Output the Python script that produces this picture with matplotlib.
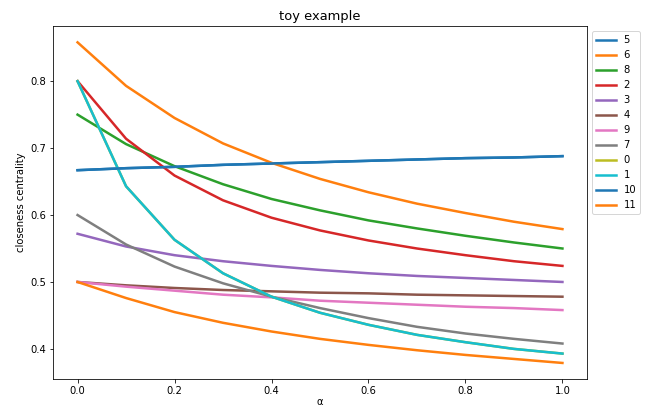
import matplotlib
matplotlib.use("Agg")
import matplotlib.pyplot as plt

alpha = [0.0, 0.1, 0.2, 0.3, 0.4, 0.5, 0.6, 0.7, 0.8, 0.9, 1.0]

# closeness centrality per node, in legend order
node_5 = [0.667, 0.670, 0.672, 0.675, 0.677, 0.679, 0.681, 0.683, 0.685, 0.686, 0.688]
node_6 = [0.858, 0.793, 0.745, 0.707, 0.678, 0.654, 0.634, 0.617, 0.603, 0.590, 0.579]
node_8 = [0.750, 0.706, 0.673, 0.646, 0.624, 0.607, 0.592, 0.580, 0.569, 0.559, 0.550]
node_2 = [0.800, 0.714, 0.659, 0.622, 0.596, 0.577, 0.562, 0.550, 0.540, 0.531, 0.524]
node_3 = [0.572, 0.553, 0.540, 0.531, 0.524, 0.518, 0.513, 0.509, 0.506, 0.503, 0.500]
node_4 = [0.500, 0.495, 0.491, 0.488, 0.486, 0.484, 0.483, 0.481, 0.480, 0.479, 0.478]
node_9 = [0.500, 0.493, 0.487, 0.481, 0.477, 0.472, 0.469, 0.466, 0.463, 0.461, 0.458]
node_7 = [0.600, 0.556, 0.523, 0.498, 0.478, 0.461, 0.446, 0.433, 0.423, 0.415, 0.408]
node_0 = [0.800, 0.643, 0.563, 0.513, 0.478, 0.454, 0.436, 0.421, 0.410, 0.400, 0.393]
node_1 = [0.800, 0.643, 0.563, 0.513, 0.478, 0.454, 0.436, 0.421, 0.410, 0.400, 0.393]
node_10 = [0.667, 0.670, 0.672, 0.675, 0.677, 0.679, 0.681, 0.683, 0.685, 0.686, 0.688]
node_11 = [0.500, 0.476, 0.455, 0.439, 0.426, 0.415, 0.406, 0.398, 0.391, 0.385, 0.379]

labels = ["5", "6", "8", "2", "3", "4", "9", "7", "0", "1", "10", "11"]
series = [node_5, node_6, node_8, node_2, node_3, node_4,
          node_9, node_7, node_0, node_1, node_10, node_11]

fig = plt.figure(figsize=(655 / 72, 408 / 72), dpi=72)
ax = fig.add_subplot(111)
fig.subplots_adjust(left=0.0814, right=0.8957, top=0.9355, bottom=0.0711)

for lab, vals in zip(labels, series):
    ax.plot(alpha, vals, label=lab, linewidth=2.5)

ax.set_title("toy example", fontsize=13)
ax.set_xlabel("α", labelpad=1)
ax.set_ylabel("closeness centrality")
ax.legend(loc="upper left", bbox_to_anchor=(1, 1))

fig.savefig("out.png", dpi=72)
